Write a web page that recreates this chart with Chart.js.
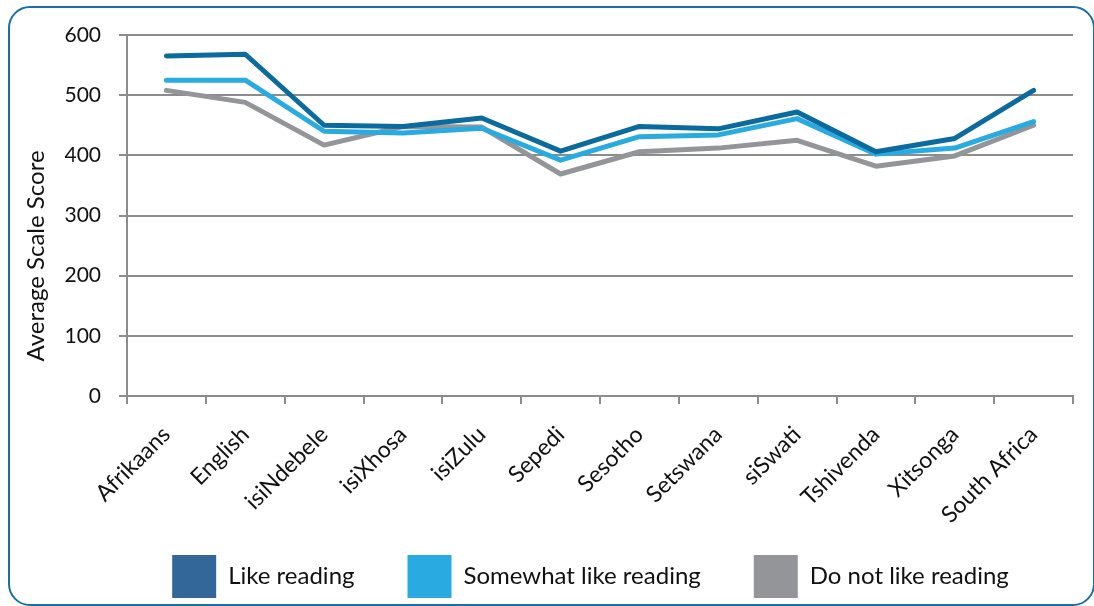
<!DOCTYPE html>
<html>
<head>
<meta charset="utf-8">
<script src="https://cdn.jsdelivr.net/npm/chart.js@4/dist/chart.umd.min.js"></script>
<style>
  html, body { margin: 0; padding: 0; background: #fff; overflow: hidden; }
  #wrap { position: relative; width: 1094px; height: 606px; overflow: hidden; }
  #frame {
    position: absolute; left: 8px; top: 6px; width: 1087px; height: 600px;
    border: 2px solid #1a6ea6; border-radius: 22px; box-sizing: border-box;
  }
  #holder { position: absolute; left: 0; top: 0; width: 1094px; height: 642px; }
</style>
</head>
<body>
<div id="wrap">
  <div id="frame"></div>
  <div id="holder"><canvas id="chart-reading"></canvas></div>
</div>
<script>
var languages = ['Afrikaans', 'English', 'isiNdebele', 'isiXhosa', 'isiZulu', 'Sepedi',
    'Sesotho', 'Setswana', 'siSwati', 'Tshivenda', 'Xitsonga', 'South Africa'];
var likeReading = [565, 568, 450, 448, 462, 407, 448, 444, 472, 406, 428, 508];
var somewhatLike = [525, 525, 440, 437, 445, 392, 431, 434, 461, 402, 412, 456];
var doNotLike = [508, 488, 417, 448, 447, 369, 406, 412, 425, 382, 399, 450];
var yTicks = [0, 100, 200, 300, 400, 500, 600];

var gridGray = '#8c8c8c';
var fontName = 'Lato, "Open Sans", sans-serif';

function series(label, data, lineColor, boxColor) {
    return {
        label: label,
        data: data,
        borderColor: lineColor,
        backgroundColor: boxColor,
        borderWidth: 5,
        borderCapStyle: 'round',
        borderJoinStyle: 'round',
        pointRadius: 0,
        tension: 0,
        fill: false
    };
}

// legend sits a bit higher and to the right of where chart.js puts it
const legendNudge = {
    id: 'legendNudge',
    afterLayout: function (chart, args, opts) {
        const l = chart.legend;
        l.top += opts.dy; l.bottom += opts.dy;
        l.left += opts.dx; l.right += opts.dx;
    }
};

// y title is centred lower than the plot area in the original
const yTitle = {
    id: 'yTitle',
    afterDraw: function (chart, args, opts) {
        const c = chart.ctx;
        c.save();
        c.translate(opts.x, opts.y);
        c.rotate(-Math.PI / 2);
        c.font = opts.size + 'px ' + fontName;
        c.fillStyle = '#111';
        c.textAlign = 'center';
        c.textBaseline = 'middle';
        c.fillText(opts.text, 0, 0);
        c.restore();
    }
};

const ctx = document.getElementById('chart-reading').getContext('2d');
const myReadingChart = new Chart(ctx, {
    type: 'line',
    data: {
        labels: languages,
        datasets: [
            series('Like reading', likeReading, '#0b6a9e', '#336699'),
            series('Somewhat like reading', somewhatLike, '#29abe2', '#29abe2'),
            series('Do not like reading', doNotLike, '#939598', '#939598')
        ]
    },
    plugins: [legendNudge, yTitle],
    options: {
        responsive: true,
        maintainAspectRatio: false,
        animation: false,
        layout: {
            padding: { left: 14, top: 35, right: 21, bottom: 0 }
        },
        scales: {
            x: {
                offset: true,
                grid: {
                    offset: true,
                    drawOnChartArea: false,
                    drawTicks: true,
                    tickLength: 8,
                    color: gridGray,
                    lineWidth: 2
                },
                border: { display: true, color: gridGray, width: 2 },
                ticks: {
                    autoSkip: false,
                    maxRotation: 45,
                    minRotation: 45,
                    padding: 17,
                    color: '#111',
                    font: { family: fontName, size: 23 }
                },
                afterFit: function (scale) { scale.height = 140; }
            },
            y: {
                min: 0,
                max: 600,
                afterBuildTicks: function (scale) {
                    scale.ticks = yTicks.map(function (v) { return { value: v }; });
                },
                grid: {
                    color: gridGray,
                    lineWidth: 2,
                    tickLength: 8
                },
                border: { display: true, color: gridGray, width: 2 },
                ticks: {
                    padding: 18,
                    color: '#111',
                    font: { family: fontName, size: 21 }
                },
                afterFit: function (scale) { scale.width = 127 - 14; }
            }
        },
        plugins: {
            legend: {
                position: 'bottom',
                labels: {
                    boxWidth: 44,
                    boxHeight: 43,
                    padding: 53,
                    color: '#111',
                    font: { family: fontName, size: 24 },
                    generateLabels: function (chart) {
                        var items = Chart.defaults.plugins.legend.labels.generateLabels(chart);
                        items.forEach(function (item) {
                            item.lineWidth = 0;
                            item.strokeStyle = 'rgba(0,0,0,0)';
                        });
                        return items;
                    }
                }
            },
            legendNudge: { dx: 47, dy: -34 },
            yTitle: { text: 'Average Scale Score', x: 36, y: 256, size: 24 },
            title: { display: false },
            tooltip: { enabled: false }
        }
    }
});
</script>
</body>
</html>
